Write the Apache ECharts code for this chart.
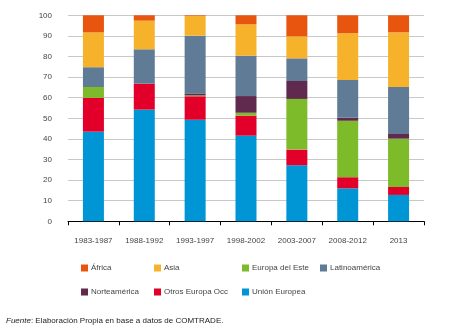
<!DOCTYPE html>
<html><head><meta charset="utf-8">
<script src="https://cdn.jsdelivr.net/npm/echarts@6/dist/echarts.min.js"></script>
<style>html,body{margin:0;padding:0;background:#fff}#c{width:453px;height:334px}</style>
</head><body><div id="c"></div>
<script>
var categories = ['1983-1987','1988-1992','1993-1997','1998-2002','2003-2007','2008-2012','2013'];
var unionEuropea   = [43.5, 54.2, 49.3, 41.6, 27.2, 16.0, 12.8];
var otrosEuropaOcc = [16.4, 12.6, 11.4,  9.7,  7.6,  5.4,  3.9];
var europaDelEste  = [ 5.3,  0.0,  0.4,  1.4, 24.6, 27.4, 23.4];
var norteamerica   = [ 0.0,  0.0,  1.0,  8.1,  8.7,  1.5,  2.3];
var latinoamerica  = [ 9.6, 16.7, 28.0, 19.6, 11.0, 18.3, 22.8];
var asia           = [16.9, 13.9,  9.6, 15.2, 10.7, 22.7, 26.5];
var africa         = [ 8.3,  2.6,  0.3,  4.4, 10.2,  8.7,  8.3];
var yTicks = [0,10,20,30,40,50,60,70,80,90,100];

var seriesDefs = [
  {name:'Unión Europea', data:unionEuropea, color:'#0096D6'},
  {name:'Otros Europa Occ', data:otrosEuropaOcc, color:'#E2002A'},
  {name:'Europa del Este', data:europaDelEste, color:'#7DBB2B'},
  {name:'Norteamérica', data:norteamerica, color:'#5F2A4E'},
  {name:'Latinoamérica', data:latinoamerica, color:'#5F7B96'},
  {name:'Asia', data:asia, color:'#F7B22C'},
  {name:'África', data:africa, color:'#E8550F'}
];
var legendPos = {
  'África':[81,264], 'Asia':[154,264], 'Europa del Este':[242,264], 'Latinoamérica':[320,264],
  'Norteamérica':[81,288], 'Otros Europa Occ':[154,288], 'Unión Europea':[242,288]
};
var font = "'Liberation Sans', Arial, sans-serif";
var legends = seriesDefs.map(function(s){
  return {data:[s.name], left:legendPos[s.name][0], top:legendPos[s.name][1], itemWidth:7, itemHeight:7,
    itemGap:0, icon:'rect', padding:0, selectedMode:false,
    textStyle:{fontSize:8, color:'#444', fontFamily:font, padding:[0,0,0,-2]}};
});
var chart = echarts.init(document.getElementById('c'), null, {renderer:'canvas'});
chart.setOption({
  animation:false,
  backgroundColor:'#fff',
  title:{text:'{i|Fuente}{n|: Elaboración Propia en base a datos de COMTRADE.}', left:6, top:317, padding:0,
    textStyle:{fontWeight:'normal', rich:{i:{fontStyle:'italic', fontWeight:'normal', fontSize:8, color:'#222', fontFamily:font},
                     n:{fontSize:8, fontWeight:'normal', color:'#222', fontFamily:font}}}},
  legend:legends,
  grid:{left:68, right:29, top:15.3, bottom:112.7},
  xAxis:{type:'category', data:categories,
    axisLine:{lineStyle:{color:'#000', width:1}},
    axisTick:{show:true, length:4, lineStyle:{color:'#000'}},
    axisLabel:{fontSize:8, color:'#444', fontFamily:font, margin:15}},
  yAxis:{type:'value', min:0, max:100, interval:10,
    axisLine:{show:false}, axisTick:{show:false},
    splitLine:{lineStyle:{color:'#c8c8c8', width:1}},
    axisLabel:{fontSize:8, color:'#444', fontFamily:font, margin:16}},
  series:seriesDefs.map(function(s){
    return {name:s.name, type:'bar', stack:'t', data:s.data, barWidth:21,
      itemStyle:{color:s.color}, emphasis:{disabled:true}};
  })
});
</script></body></html>
